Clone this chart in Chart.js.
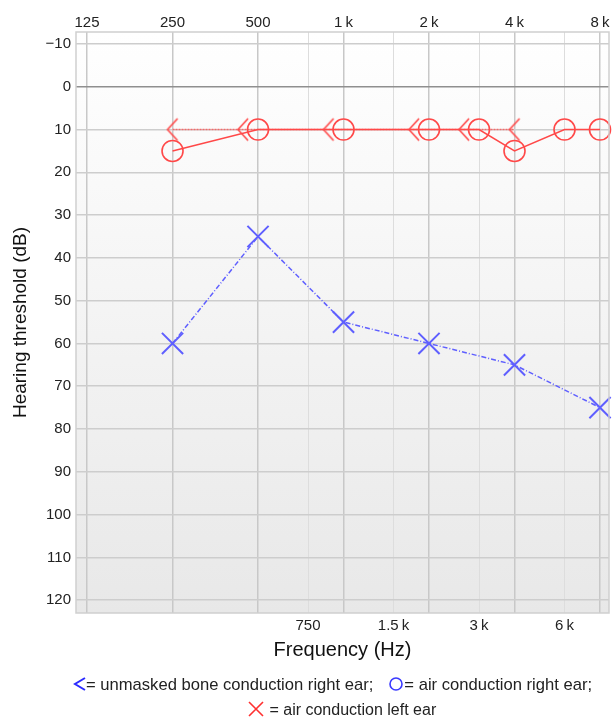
<!DOCTYPE html>
<html>
<head>
<meta charset="utf-8">
<script src="https://cdn.jsdelivr.net/npm/chart.js@4.4.1/dist/chart.umd.min.js"></script>
<style>
  html, body { margin: 0; padding: 0; background: #fff; overflow: hidden; }
  #wrap { position: relative; width: 614px; height: 717px; overflow: hidden; }
  #audiograma { display: block; }
  .leyenda {
    position: absolute;
    font: 16px "Liberation Sans", Arial, sans-serif; color: #222;
    line-height: 25px; white-space: nowrap;
  }
  .leyenda svg { vertical-align: -2px; }
</style>
</head>
<body>
<div id="wrap">
  <canvas id="audiograma" width="614" height="717"></canvas>
  <div class="leyenda" style="left:73px; top:672px; font-size:16.6px;">
    <svg width="13" height="16"><path d="M12 2 L2 8 L12 14" fill="none" stroke="#2b2bff" stroke-width="2"/></svg>= unmasked bone conduction right ear;<span style="display:inline-block;width:15px"></span><svg width="16" height="16"><circle cx="8" cy="8" r="6" fill="none" stroke="#3a3aff" stroke-width="1.6"/></svg>= air conduction right ear;
  </div>
  <div class="leyenda" style="left:247px; top:697px;">
    <svg width="18" height="16"><path d="M2 1 L16 15 M16 1 L2 15" stroke="#ff3030" stroke-width="1.6"/></svg> = air conduction left ear
  </div>
</div>
<script>
// datos del audiograma
const frecAireDer = [250, 500, 1000, 2000, 3000, 4000, 6000, 8000];
const aireDer = [15, 10, 10, 10, 10, 15, 10, 10];
const frecOseaDer = [250, 500, 1000, 2000, 3000, 4000];
const oseaDer = [10, 10, 10, 10, 10, 10];
const frecAireIzq = [250, 500, 1000, 2000, 4000, 8000];
const aireIzq = [60, 35, 55, 60, 65, 75];

const ticksArriba = [125, 250, 500, 1000, 2000, 4000, 8000];
const etiquetasArriba = ['125', '250', '500', '1\u2009k', '2\u2009k', '4\u2009k', '8\u2009k'];
const ticksAbajo = [750, 1500, 3000, 6000];
const etiquetasAbajo = ['750', '1.5\u2009k', '3\u2009k', '6\u2009k'];
const ticksDb = [-10, 0, 10, 20, 30, 40, 50, 60, 70, 80, 90, 100, 110, 120];

const rojo = 'rgb(255,72,72)';
const azul = 'rgb(95,95,255)';

// simbolo "<" de conduccion osea (desplazado cuando coincide con el circulo)
function crearMenor(desplazado) {
    const c = document.createElement('canvas');
    c.width = 50; c.height = 30;
    const g = c.getContext('2d');
    const ax = desplazado ? 5 : 20;
    g.strokeStyle = rojo;
    g.lineWidth = 1.6;
    g.beginPath();
    g.moveTo(ax + 10, 4);
    g.lineTo(ax, 15);
    g.lineTo(ax + 10, 26);
    g.stroke();
    return c;
}
const menorCentro = crearMenor(false);
const menorLado = crearMenor(true);
const estilosOsea = frecOseaDer.map((f, i) => {
    const j = frecAireDer.indexOf(f);
    return (j >= 0 && aireDer[j] === oseaDer[i]) ? menorLado : menorCentro;
});

const fondo = {
    id: 'fondo',
    beforeDraw(chart) {
        const { ctx, chartArea: a } = chart;
        const gr = ctx.createLinearGradient(0, a.top, 0, a.bottom);
        gr.addColorStop(0, '#ffffff');
        gr.addColorStop(1, '#e8e8e8');
        ctx.save();
        ctx.fillStyle = gr;
        ctx.fillRect(a.left, a.top, a.right - a.left, a.bottom - a.top);
        ctx.restore();
    },
    afterDatasetsDraw(chart) {
        const { ctx, chartArea: a } = chart;
        ctx.save();
        ctx.strokeStyle = '#cfcfcf';
        ctx.lineWidth = 1.5;
        ctx.strokeRect(a.left, a.top, a.right - a.left, a.bottom - a.top);
        ctx.restore();
    }
};

const fuenteTicks = { family: '"Liberation Sans", Arial, sans-serif', size: 15 };

// sin margenes extra para las etiquetas de los extremos
function ajusteX(alto) {
    return s => { s.height = alto; s.paddingLeft = 0; s.paddingRight = 0; };
}

const ctx = document.getElementById('audiograma').getContext('2d');
const chart = new Chart(ctx, {
    type: 'scatter',
    data: {
        datasets: [{
            label: 'air conduction left ear',
            data: frecAireIzq.map((f, i) => ({ x: f, y: aireIzq[i] })),
            showLine: true,
            borderColor: azul,
            borderWidth: 1.5,
            borderDash: [5, 2, 1, 2],
            pointStyle: 'crossRot',
            pointRadius: 15,
            pointHoverRadius: 15,
            pointBorderColor: azul,
            pointBorderWidth: 2,
            clip: false
        }, {
            label: 'air conduction right ear',
            data: frecAireDer.map((f, i) => ({ x: f, y: aireDer[i] })),
            showLine: true,
            borderColor: rojo,
            borderWidth: 1.5,
            pointStyle: 'circle',
            pointRadius: 10.5,
            pointHoverRadius: 10.5,
            pointBorderColor: rojo,
            pointBackgroundColor: 'rgba(0,0,0,0)',
            pointBorderWidth: 1.6,
            clip: false
        }, {
            label: 'unmasked bone conduction right ear',
            data: frecOseaDer.map((f, i) => ({ x: f, y: oseaDer[i] })),
            showLine: true,
            borderColor: 'rgba(255,72,72,0.75)',
            borderWidth: 1.5,
            borderDash: [2, 1],
            pointStyle: estilosOsea,
            clip: false
        }]
    },
    options: {
        responsive: false,
        animation: false,
        layout: { autoPadding: false, padding: { right: 5, bottom: 55 } },
        plugins: {
            legend: { display: false },
            tooltip: { enabled: false }
        },
        scales: {
            x: {
                type: 'logarithmic',
                position: 'bottom',
                min: 114.3,
                max: 8606,
                afterBuildTicks: s => { s.ticks = ticksAbajo.map(v => ({ value: v })); },
                afterFit: ajusteX(49),
                ticks: {
                    autoSkip: false, maxRotation: 0, padding: 4,
                    color: '#222', font: fuenteTicks,
                    callback: v => etiquetasAbajo[ticksAbajo.indexOf(v)]
                },
                grid: { color: '#dddddd', lineWidth: 1, drawTicks: false },
                border: { display: false },
                title: {
                    display: true, text: 'Frequency (Hz)', color: '#111',
                    font: { family: '"Liberation Sans", Arial, sans-serif', size: 20 },
                    padding: 0
                }
            },
            x2: {
                type: 'logarithmic',
                position: 'top',
                min: 114.3,
                max: 8606,
                afterBuildTicks: s => { s.ticks = ticksArriba.map(v => ({ value: v })); },
                afterFit: ajusteX(32),
                ticks: {
                    autoSkip: false, maxRotation: 0, padding: 0,
                    color: '#222', font: fuenteTicks,
                    callback: v => etiquetasArriba[ticksArriba.indexOf(v)]
                },
                grid: { color: '#c8c8c8', lineWidth: 1.5, drawTicks: false },
                border: { display: false }
            },
            y: {
                type: 'linear',
                reverse: true,
                min: -12.8,
                max: 123,
                afterBuildTicks: s => { s.ticks = ticksDb.map(v => ({ value: v })); },
                afterFit: s => { s.width = 76; s.paddingTop = 0; s.paddingBottom = 0; },
                ticks: {
                    padding: 5, color: '#222', font: fuenteTicks,
                    callback: v => (v < 0 ? '\u2212' + Math.abs(v) : String(v))
                },
                grid: {
                    drawTicks: false,
                    lineWidth: 1.5,
                    color: c => (c.tick && c.tick.value === 0 ? '#8f8f8f' : '#cdcdcd')
                },
                border: { display: false },
                title: {
                    display: true, text: 'Hearing threshold (dB)', color: '#111',
                    font: { family: '"Liberation Sans", Arial, sans-serif', size: 19 },
                    padding: { top: 9, bottom: 0 }
                }
            }
        }
    },
    plugins: [fondo]
});
</script>
</body>
</html>
